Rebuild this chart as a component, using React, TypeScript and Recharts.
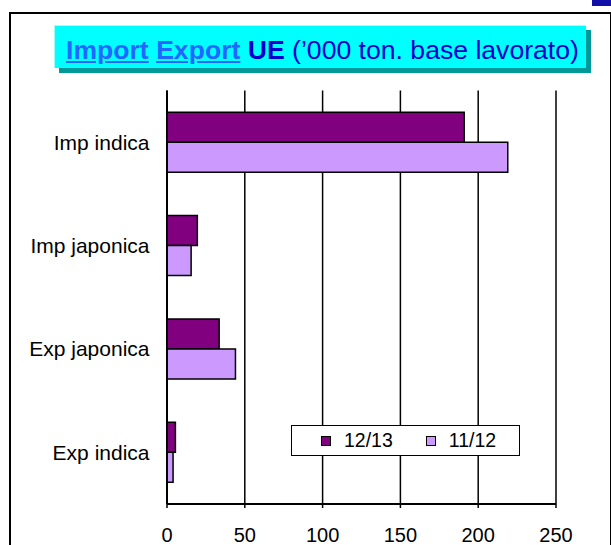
import React from "react";
import {
  BarChart,
  Bar,
  XAxis,
  YAxis,
  CartesianGrid,
  Legend,
  ReferenceLine,
} from "recharts";

const categories = ["Imp indica", "Imp japonica", "Exp japonica", "Exp indica"];
const seriesNames = ["12/13", "11/12"];
const values1213 = [191, 19.5, 33.5, 5.4];
const values1112 = [219, 15.5, 44, 3.9];
const xTicks = [0, 50, 100, 150, 200, 250];
// band edges for the Excel-style category ticks
const bandEdges = [0, 1, 2, 3, 4];

const data = categories.map((name, i) => ({
  name,
  s1213: values1213[i],
  s1112: values1112[i],
}));

const FONT = '"Liberation Sans", Arial, sans-serif';

function LegendBox({ payload }: any) {
  const items = seriesNames
    .map((n) => (payload || []).find((p: any) => p.value === n))
    .filter(Boolean);
  return (
    <div
      style={{
        display: "flex",
        alignItems: "center",
        height: "100%",
        paddingLeft: 29,
        boxSizing: "border-box",
        fontFamily: FONT,
        fontSize: 19.5,
        color: "#000",
      }}
    >
      {items.map((p: any, i: number) => (
        <div
          key={p.value}
          style={{ display: "flex", alignItems: "center", marginLeft: i ? 33 : 0 }}
        >
          <span
            style={{
              width: 8,
              height: 8,
              background: p.color,
              border: "1.5px solid #000",
              marginRight: 13,
              display: "inline-block",
            }}
          />
          <span>{p.value}</span>
        </div>
      ))}
    </div>
  );
}

export default function App() {
  return (
    <div
      style={{
        position: "absolute",
        left: 0,
        top: 0,
        width: 611,
        height: 545,
        overflow: "hidden",
        background: "#fff",
        fontFamily: FONT,
      }}
    >
      {/* slide frame */}
      <div
        style={{
          position: "absolute",
          left: 9,
          top: 12,
          width: 599,
          height: 560,
          border: "2px solid #000",
        }}
      />
      <div
        style={{
          position: "absolute",
          left: 592,
          top: 0,
          width: 19,
          height: 6,
          background: "#1010a8",
        }}
      />
      {/* title box */}
      <div
        style={{
          position: "absolute",
          left: 54,
          top: 25,
          width: 532,
          height: 43,
          background: "#00ffff",
          boxShadow: "5px 5px 0 #009999",
          borderTop: "1px solid #9ffff8",
          borderLeft: "1px solid #9ffff8",
          boxSizing: "border-box",
        }}
      >
        <div
          style={{
            position: "absolute",
            left: 11,
            top: 11,
            fontSize: 26.6,
            lineHeight: "26px",
            whiteSpace: "nowrap",
            color: "#0000cc",
          }}
        >
          <span style={{ color: "#2266ff", fontWeight: "bold", textDecoration: "underline" }}>
            Import
          </span>{" "}
          <span style={{ color: "#2266ff", fontWeight: "bold", textDecoration: "underline" }}>
            Export
          </span>{" "}
          <span style={{ fontWeight: "bold" }}>UE</span> (’000 ton. base lavorato)
        </div>
      </div>

      <div style={{ position: "absolute", left: 0, top: 0 }}>
        <BarChart
          width={611}
          height={545}
          data={data}
          layout="vertical"
          margin={{ top: 90.5, right: 55, bottom: 6, left: 12 }}
          barCategoryGap="21%"
          barGap={0}
        >
          <CartesianGrid
            horizontal={false}
            stroke="#000"
            strokeWidth={1.5}
            xAxisId="x"
            yAxisId="cat"
          />
          <XAxis
            xAxisId="x"
            type="number"
            domain={[0, 250]}
            ticks={xTicks}
            interval={0}
            height={35}
            tickSize={4}
            tickMargin={20}
            axisLine={{ stroke: "#000", strokeWidth: 2 }}
            tickLine={{ stroke: "#000", strokeWidth: 1.5 }}
            tick={{ fill: "#000", fontSize: 20, fontFamily: FONT }}
          />
          <YAxis
            yAxisId="bounds"
            type="number"
            domain={[0, 4]}
            ticks={bandEdges}
            allowDataOverflow
            width={5}
            tickSize={4}
            tick={false}
            axisLine={{ stroke: "#000", strokeWidth: 2 }}
            tickLine={{ stroke: "#000", strokeWidth: 1.5 }}
          />
          <YAxis
            yAxisId="cat"
            type="category"
            dataKey="name"
            width={150}
            tickSize={0}
            tickMargin={12.5}
            axisLine={false}
            tickLine={false}
            tick={{ fill: "#000", fontSize: 21, fontFamily: FONT }}
          />
          <ReferenceLine xAxisId="x" yAxisId="bounds" y={4} stroke="#444" strokeWidth={1.5} />
          <Legend
            layout="vertical"
            verticalAlign="middle"
            align="center"
            content={<LegendBox />}
            wrapperStyle={{
              position: "absolute",
              left: 291,
              top: 425,
              width: 229,
              height: 31,
              background: "#fff",
              border: "1.5px solid #000",
              boxSizing: "border-box",
            }}
          />
          <Bar
            xAxisId="x"
            yAxisId="cat"
            dataKey="s1213"
            name={seriesNames[0]}
            fill="#800080"
            stroke="#000"
            strokeWidth={1.5}
            isAnimationActive={false}
          />
          <Bar
            xAxisId="x"
            yAxisId="cat"
            dataKey="s1112"
            name={seriesNames[1]}
            fill="#cc99ff"
            stroke="#000"
            strokeWidth={1.5}
            isAnimationActive={false}
          />
        </BarChart>
      </div>
    </div>
  );
}
